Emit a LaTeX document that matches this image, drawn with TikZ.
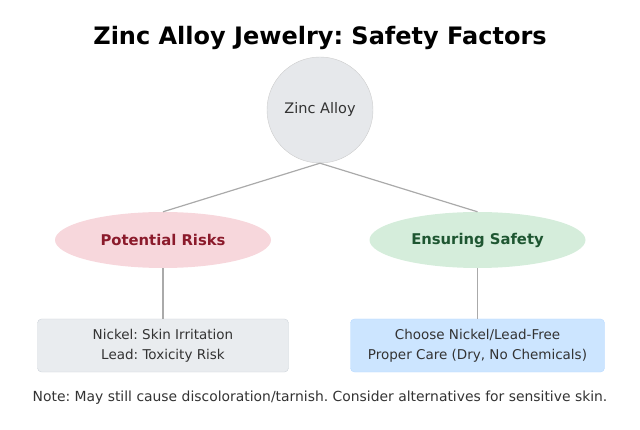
\documentclass[tikz,border=0pt]{standalone}
\usepackage{fontspec}
\setmainfont{DejaVu Sans}
\frenchspacing
\usetikzlibrary{shapes.geometric}
\definecolor{txt}{HTML}{333333}
\definecolor{edge}{HTML}{AAAAAA}
\definecolor{rootfill}{HTML}{E6E8EB}
\definecolor{rootdraw}{HTML}{CCCCCC}
\definecolor{riskfill}{HTML}{F7D7DC}
\definecolor{risktext}{HTML}{8B1A2B}
\definecolor{safefill}{HTML}{D5EDDB}
\definecolor{safetext}{HTML}{1E5631}
\definecolor{grayfill}{HTML}{E9ECEF}
\definecolor{graydraw}{HTML}{CED4DA}
\definecolor{bluefill}{HTML}{CCE5FF}
\definecolor{bluedraw}{HTML}{B8DAFF}
\tikzset{
  rootnode/.style={circle, draw=rootdraw, fill=rootfill, minimum size=106pt, inner sep=0pt, text=txt, font=\fontsize{14.5}{18}\selectfont},
  catnode/.style={ellipse, minimum width=216pt, minimum height=56pt, inner sep=0pt, font=\bfseries\fontsize{14.8}{18}\selectfont},
  boxnode/.style={rectangle, rounded corners=4pt, minimum width=251pt, minimum height=53pt, align=center, text=txt, font=\fontsize{13.5}{20}\selectfont},
  link/.style={draw=edge, line width=1.2pt}
}
\begin{document}
\begin{tikzpicture}[x=1pt,y=-1pt]
\useasboundingbox (0,0) rectangle (640,430);
\node[font=\bfseries\fontsize{24}{28}\selectfont, text=black] (title) at (320,38) {Zinc Alloy Jewelry: Safety Factors};
\node[rootnode] (root) at (320,110) {Zinc Alloy};
\node[catnode, fill=riskfill, text=risktext] (risk) at (163,240) {Potential Risks};
\node[catnode, fill=safefill, text=safetext] (safe) at (477.5,240) {Ensuring Safety};
\node[boxnode, draw=graydraw, fill=grayfill] (riskbox) at (163,345.5) {Nickel: Skin Irritation\\Lead: Toxicity Risk};
\node[boxnode, draw=bluedraw, fill=bluefill, minimum width=254pt] (safebox) at (477.5,345.5) {Choose Nickel/Lead-Free\\Proper Care (Dry, No Chemicals)};
\node[text=txt, font=\fontsize{13.9}{16}\selectfont] (note) at (320,398) {Note: May still cause discoloration/tarnish. Consider alternatives for sensitive skin.};
\draw[link] (root.south) -- (risk.north);
\draw[link] (root.south) -- (safe.north);
\draw[link] (risk.south) -- (riskbox.north);
\draw[link] (safe.south) -- (safebox.north);
\end{tikzpicture}
\end{document}
